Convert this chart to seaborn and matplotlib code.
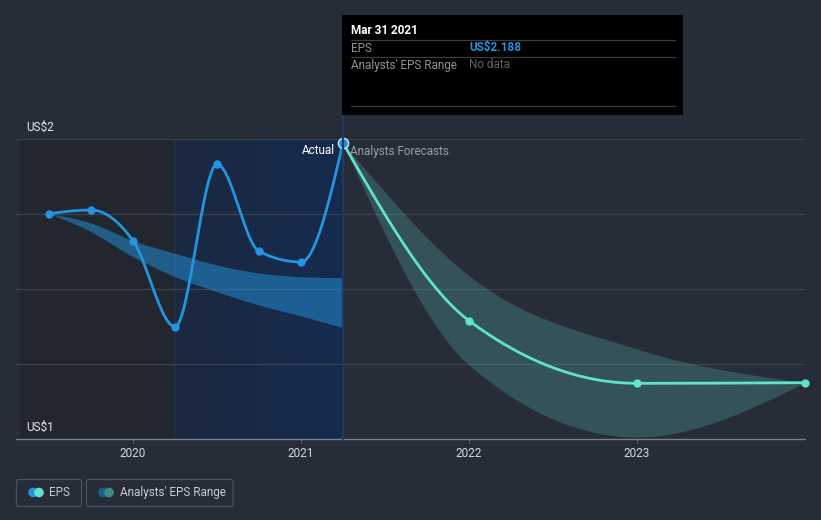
import numpy as np
import matplotlib
matplotlib.use("Agg")
import matplotlib.pyplot as plt
import seaborn as sns
from matplotlib.patches import Rectangle, FancyBboxPatch
from matplotlib.lines import Line2D

# ---------------- data ----------------
hist_dates = [2019.5, 2019.75, 2020.0, 2020.25, 2020.5, 2020.75, 2021.0, 2021.25]
hist_eps = [1.976, 1.987, 1.895, 1.637, 2.124, 1.863, 1.831, 2.188]
hist_range_high = [1.976, 1.948, 1.895, 1.857, 1.822, 1.798, 1.787, 1.784]
hist_range_low = [1.976, 1.922, 1.847, 1.787, 1.742, 1.702, 1.669, 1.634]

fc_dates = [2021.25, 2022.0, 2023.0, 2024.0]
fc_eps = [2.188, 1.655, 1.467, 1.469]
fc_high = [2.188, 1.790, 1.570, 1.469]
fc_low = [2.188, 1.522, 1.306, 1.469]

year_ticks = [2020, 2021, 2022, 2023]
year_labels = ["2020", "2021", "2022", "2023"]
grid_values = [1.3, 1.525, 1.75, 1.975, 2.2]
y_label_values = [2.2, 1.3]
y_labels = ["US$2", "US$1"]

tooltip_title = "Mar 31 2021"
tooltip_rows = [("EPS", "US$2.188"), ("Analysts' EPS Range", "No data")]
legend_labels = ["EPS", "Analysts' EPS Range"]

# ---------------- style ----------------
BG = "#262C38"
DARK = "#21262F"
BLUE = "#2394DF"
TEAL = "#62E2CC"
GRID = "#3C414E"
TXT = "#D4D7DC"
GRAY = "#8F939A"

sns.set_theme(style="dark", rc={"axes.facecolor": BG, "figure.facecolor": BG})
plt.rcParams["font.family"] = ["Roboto", "DejaVu Sans"]


def monotone(x, y, n=60):
    """d3 curveMonotoneX style smoothing for display."""
    x = np.asarray(x, float)
    y = np.asarray(y, float)
    m = len(x)
    h = np.diff(x)
    s = np.diff(y) / h
    t = np.zeros(m)
    for i in range(1, m - 1):
        p = (s[i - 1] * h[i] + s[i] * h[i - 1]) / (h[i - 1] + h[i])
        t[i] = (np.sign(s[i - 1]) + np.sign(s[i])) * min(abs(s[i - 1]), abs(s[i]), 0.5 * abs(p))
    if m > 2:
        t[0] = (3 * s[0] - t[1]) / 2
        t[-1] = (3 * s[-1] - t[-2]) / 2
    else:
        t[:] = s[0]
    xs, ys = [], []
    for i in range(m - 1):
        u = np.linspace(0, 1, n, endpoint=(i == m - 2))
        h00 = 2 * u**3 - 3 * u**2 + 1
        h10 = u**3 - 2 * u**2 + u
        h01 = -2 * u**3 + 3 * u**2
        h11 = u**3 - u**2
        xs.append(x[i] + u * h[i])
        ys.append(h00 * y[i] + h10 * h[i] * t[i] + h01 * y[i + 1] + h11 * h[i] * t[i + 1])
    return np.concatenate(xs), np.concatenate(ys)


W, H = 821, 520
fig = plt.figure(figsize=(W / 100, H / 100), dpi=100)
fig.patch.set_facecolor(BG)

x_left = 2020 + (16 - 133) / 168.0
x_right = 2024.0
ax = fig.add_axes([16 / W, 81 / H, (805 - 16) / W, 300 / H])
ax.set_facecolor(BG)
ax.set_xlim(x_left, x_right)
ax.set_ylim(1.3, 2.2)
for sp in ax.spines.values():
    sp.set_visible(False)

# shaded background regions
ax.axvspan(2020 + (20 - 133) / 168.0, hist_dates[3], color=DARK, zorder=0, lw=0)
grad = np.zeros((1, 200, 3))
c0 = np.array([27, 41, 64]) / 255
c1 = np.array([22, 43, 78]) / 255
for i in range(200):
    grad[0, i] = c0 + (c1 - c0) * i / 199
ax.imshow(grad, extent=[hist_dates[3], hist_dates[-1], 1.3, 2.2], aspect="auto", zorder=0.5)
ax.axvline(hist_dates[3], color="#1F2D46", lw=1.6, zorder=0.8)

# gridlines
for g in grid_values[1:]:
    ax.axhline(g, color=GRID, lw=0.9, zorder=1)
ax.axhline(grid_values[0], color="#7A7F89", lw=1.0, zorder=1, clip_on=False)

# bands
bx, bh = monotone(hist_dates, hist_range_high)
_, bl = monotone(hist_dates, hist_range_low)
ax.fill_between(bx, bl, bh, color=BLUE, alpha=0.5, lw=0, zorder=2)
fx, fh = monotone(fc_dates, fc_high)
_, fl = monotone(fc_dates, fc_low)
ax.fill_between(fx, fl, fh, color=TEAL, alpha=0.22, lw=0, zorder=2)

# lines
hx, hy = monotone(hist_dates, hist_eps)
sns.lineplot(x=hx, y=hy, ax=ax, sort=False, estimator=None, color=BLUE, lw=2.0, zorder=3)
fcx, fcy = monotone(fc_dates, fc_eps)
sns.lineplot(x=fcx, y=fcy, ax=ax, sort=False, estimator=None, color=TEAL, lw=2.0, zorder=3)

# markers
sns.scatterplot(x=hist_dates[:-1], y=hist_eps[:-1], ax=ax, color=BLUE, s=36, lw=0, zorder=4)
sns.scatterplot(x=fc_dates[1:], y=fc_eps[1:], ax=ax, color=TEAL, s=36, lw=0, zorder=4, clip_on=False)
sns.scatterplot(x=[hist_dates[-1]], y=[hist_eps[-1]], ax=ax, color=BLUE, s=55,
                edgecolor="#CFE6F7", linewidth=1.0, zorder=5, clip_on=False)

# axis ticks
ax.set_yticks([])
ax.set_xticks(year_ticks)
ax.set_xticklabels(year_labels)
ax.tick_params(axis="x", bottom=True, length=3, width=0.8, color="#5A5F6A", direction="out",
               pad=2.5, labelsize=8.5, labelcolor=TXT)
ax.grid(False)
ax.set_xlabel("")
ax.set_ylabel("")

# ---------------- overlay (pixel coords) ----------------
ov = fig.add_axes([0, 0, 1, 1], facecolor="none")
ov.set_xlim(0, W)
ov.set_ylim(H, 0)
ov.axis("off")

# y labels
for v, lab in zip(y_label_values, y_labels):
    ypix = 439 - (v - 1.3) / 0.9 * 300
    ov.text(26, ypix - 12, lab, color="#E6E8EB", fontsize=8.5, va="center", ha="left")

# vertical line at last actual
ov.add_line(Line2D([342.5, 342.5], [115, 439], color="#1E3A62", lw=1.6, zorder=1))

ov.text(335, 151, "Actual", color="#FFFFFF", fontsize=8.5, ha="right", va="center")
ov.text(350, 151, "Analysts Forecasts", color="#9A9EA5", fontsize=8.5, ha="left", va="center")

# tooltip
ov.add_patch(Rectangle((342, 15), 341, 100, facecolor="#000000", edgecolor="none", zorder=5))
ov.text(351, 31, tooltip_title, color="#FFFFFF", fontsize=8.5, fontweight="bold", va="center", zorder=6)
for yl in (40, 57, 106):
    ov.add_line(Line2D([351, 675], [yl, yl], color="#3A3C40", lw=0.9, zorder=6))
ov.text(351, 48, tooltip_rows[0][0], color=GRAY, fontsize=8.5, va="center", zorder=6)
ov.text(469, 48, tooltip_rows[0][1], color=BLUE, fontsize=8.5, fontweight="bold", va="center", zorder=6)
ov.text(351, 65, tooltip_rows[1][0], color=GRAY, fontsize=8.5, va="center", zorder=6)
ov.text(469, 65, tooltip_rows[1][1], color="#5F636A", fontsize=8.5, va="center", zorder=6)

# legend
for (x0, x1), lab, (ca, cb) in zip([(16.5, 81.5), (86.5, 233)], legend_labels,
                                    [(BLUE, TEAL), ("#1F5F90", "#3E8C88")]):
    ov.add_patch(FancyBboxPatch((x0, 479.5), x1 - x0, 27, boxstyle="round,pad=0,rounding_size=2",
                                facecolor="none", edgecolor="#4B505B", lw=0.9))
    ov.scatter([x0 + 16.5, x0 + 22.5], [492.5, 492.5], s=48, c=[ca, cb], lw=0, zorder=7)
    ov.text(x0 + 33, 492.5, lab, color="#C8CBD0", fontsize=8.5, va="center", ha="left")

fig.savefig("out.png", dpi=100, facecolor=BG)
